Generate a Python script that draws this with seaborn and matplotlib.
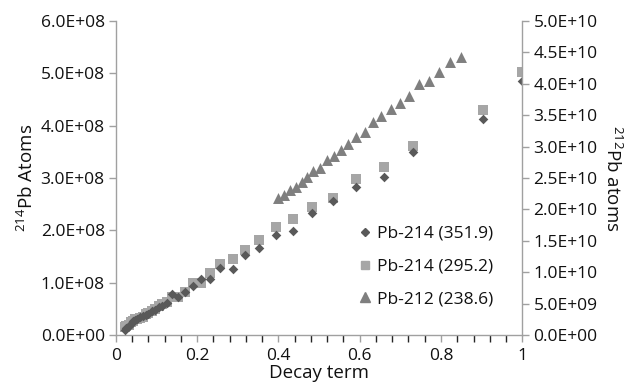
import matplotlib
matplotlib.use("Agg")
import matplotlib.pyplot as plt
import seaborn as sns
import pandas as pd
from matplotlib.ticker import FuncFormatter, MultipleLocator
from matplotlib.lines import Line2D

# ---- data ----
decay_214 = [0.022, 0.026, 0.031, 0.036, 0.041, 0.047, 0.053, 0.059, 0.066, 0.073,
             0.080, 0.088, 0.096, 0.105, 0.114, 0.125, 0.138, 0.152, 0.171, 0.190,
             0.210, 0.231, 0.257, 0.287, 0.318, 0.353, 0.393, 0.435, 0.482, 0.535,
             0.591, 0.660, 0.732, 0.903, 1.000]
pb214_3519 = [0.10e8, 0.14e8, 0.18e8, 0.22e8, 0.26e8, 0.28e8, 0.30e8, 0.34e8, 0.36e8, 0.38e8,
              0.41e8, 0.45e8, 0.47e8, 0.53e8, 0.56e8, 0.62e8, 0.78e8, 0.72e8, 0.82e8, 0.94e8,
              1.08e8, 1.08e8, 1.28e8, 1.27e8, 1.53e8, 1.66e8, 1.91e8, 1.98e8, 2.33e8, 2.56e8,
              2.83e8, 3.01e8, 3.50e8, 4.13e8, 4.85e8]
pb214_2952 = [0.15e8, 0.17e8, 0.20e8, 0.24e8, 0.27e8, 0.30e8, 0.31e8, 0.33e8, 0.35e8, 0.40e8,
              0.42e8, 0.46e8, 0.49e8, 0.55e8, 0.60e8, 0.64e8, 0.72e8, 0.73e8, 0.83e8, 1.00e8,
              0.99e8, 1.19e8, 1.35e8, 1.45e8, 1.63e8, 1.81e8, 2.06e8, 2.22e8, 2.44e8, 2.62e8,
              2.98e8, 3.22e8, 3.62e8, 4.30e8, 5.03e8]
decay_212 = [0.400, 0.414, 0.429, 0.443, 0.457, 0.471, 0.486, 0.502, 0.519, 0.537,
             0.554, 0.571, 0.592, 0.613, 0.632, 0.653, 0.677, 0.698, 0.721, 0.745,
             0.770, 0.796, 0.822, 0.849]
pb212_2386 = [2.177e10, 2.229e10, 2.309e10, 2.352e10, 2.432e10, 2.521e10, 2.611e10, 2.667e10,
              2.782e10, 2.850e10, 2.946e10, 3.041e10, 3.161e10, 3.237e10, 3.392e10, 3.492e10,
              3.594e10, 3.694e10, 3.811e10, 3.994e10, 4.045e10, 4.193e10, 4.342e10, 4.422e10]
labels = ["Pb-214 (351.9)", "Pb-214 (295.2)", "Pb-212 (238.6)"]
x_label = "Decay term"
y_label_left = r"$^{214}$Pb Atoms"
y_label_right = r"$^{212}$Pb atoms"

df214 = pd.DataFrame({"x": decay_214, "a": pb214_3519, "b": pb214_2952})
df212 = pd.DataFrame({"x": decay_212, "c": pb212_2386})

sns.set_style("white")
plt.rcParams["font.family"] = ["Open Sans", "DejaVu Sans"]
plt.rcParams["mathtext.fontset"] = "custom"
plt.rcParams["mathtext.rm"] = "Open Sans"

c_dia = "#595959"
c_sq = "#a6a6a6"
c_tri = "#7f7f7f"
axis_c = "#a0a0a0"
txt_c = "#111111"
fs = 12.5
fs_lab = 13.5

fig = plt.figure(figsize=(6.3, 3.86), dpi=100)
ax = fig.add_axes([0.184, 0.132, 0.645, 0.8136])
ax2 = ax.twinx()

sns.scatterplot(data=df214, x="x", y="b", ax=ax, marker="s", s=42, color=c_sq,
                linewidth=0, zorder=2)
sns.scatterplot(data=df214, x="x", y="a", ax=ax, marker="D", s=24, color=c_dia,
                linewidth=0, zorder=3)
sns.scatterplot(data=df212, x="x", y="c", ax=ax2, marker="^", s=62, color=c_tri,
                linewidth=0)

ax.set_xlim(0, 1)
ax.set_ylim(0, 6e8)
ax2.set_ylim(0, 5e10)
ax.set_yticks([i * 1e8 for i in range(7)])
ax2.set_yticks([i * 5e9 for i in range(11)])
ax.set_xticks([0, 0.2, 0.4, 0.6, 0.8, 1.0])
ax.xaxis.set_minor_locator(MultipleLocator(0.04))

sci = FuncFormatter(lambda v, p: f"{v:.1E}")
ax.yaxis.set_major_formatter(sci)
ax2.yaxis.set_major_formatter(sci)
ax.xaxis.set_major_formatter(FuncFormatter(lambda v, p: f"{v:g}"))

for a in (ax, ax2):
    a.spines["top"].set_visible(False)
    for s in ("left", "right", "bottom"):
        a.spines[s].set_color(axis_c)
        a.spines[s].set_linewidth(1.0)
    a.tick_params(colors=axis_c, labelcolor=txt_c, labelsize=fs, direction="out")
    a.grid(False)
ax.spines["right"].set_visible(False)
ax2.spines["left"].set_visible(False)
ax2.spines["bottom"].set_visible(False)

ax.tick_params(axis="y", which="major", length=5, width=1, left=True, pad=3)
ax2.tick_params(axis="y", which="major", length=5, width=1, right=True, pad=3)
ax.tick_params(axis="x", which="both", length=5, width=1, bottom=True, pad=4)

ax.set_xlabel(x_label, fontsize=fs_lab, color=txt_c, labelpad=0)
ax.set_ylabel(y_label_left, fontsize=fs_lab, color=txt_c, labelpad=3)
ax2.set_ylabel(y_label_right, fontsize=fs_lab, color=txt_c, rotation=270, labelpad=18)

handles = [
    Line2D([], [], marker="D", color=c_dia, linestyle="none", markersize=4.5),
    Line2D([], [], marker="s", color=c_sq, linestyle="none", markersize=6),
    Line2D([], [], marker="^", color=c_tri, linestyle="none", markersize=6.5),
]
ax2.legend(handles, labels, loc="upper left", bbox_to_anchor=(0.575, 0.37),
           frameon=False, fontsize=fs, labelspacing=0.95, handletextpad=0.2,
           handlelength=1.0, borderaxespad=0, labelcolor=txt_c)

fig.savefig("out.png", dpi=100)
